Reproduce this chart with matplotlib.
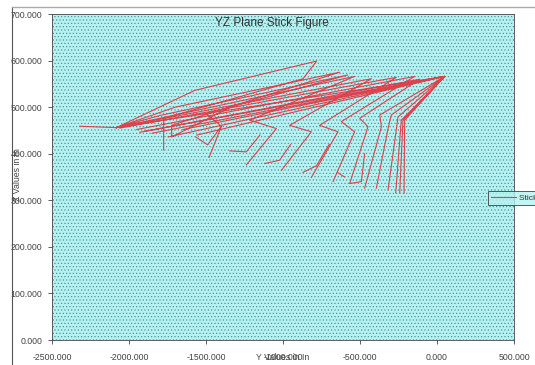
import numpy as np
import matplotlib
matplotlib.use("Agg")
import matplotlib.pyplot as plt
from matplotlib.patches import Rectangle

plt.rcParams['font.family'] = ['Liberation Sans', 'DejaVu Sans']
plt.rcParams['hatch.linewidth'] = 0.5

# Stick figure frames (Y value, Z value); None separates strokes
stick_y = [
    -2320, -2082, -1573, -781, -870, -1775, -1775, None,
    -2082, -1700, -632, -1723, -1723, -1310, None,
    -2082, -1800, -580, -1498, -1400, -1480, None, -1567, -1489, -1400, None,
    -2082, -535, -1216, -1043, -1238, None, -1346, -1238, -1150, None,
    -2082, -426, -957, -816, -1011, None, -1119, -1022, -950, None,
    -2060, -264, -762, -643, -816, None, -870, -783, -700, None,
    -1950, -145, -621, -535, -675, None, -643, -600, None,
    -1930, -113, -502, -448, -567, -491, -470, None,
    -2082, 50, -372, -361, -470, None,
    -1900, 50, -297, -318, -394, None,
    -1745, 50, -253, -318, None,
    -1850, 50, -232, -268, None,
    -1650, 50, -221, -242, None,
    -1560, 50, -210, -214,
]
stick_z = [
    459, 456, 536, 599, 561, 476, 408, None,
    456, 500, 575, 461, 436, 505, None,
    456, 482, 569, 486, 459, 392, None, 436, 419, 459, None,
    456, 566, 472, 454, 376, None, 406, 404, 440, None,
    456, 561, 461, 447, 364, None, 379, 386, 420, None,
    455, 564, 461, 447, 349, None, 360, 374, 420, None,
    452, 566, 469, 447, 340, None, 359, 350, None,
    446, 560, 476, 458, 336, 340, 400, None,
    456, 566, 483, 458, 326, None,
    448, 566, 483, 454, 326, None,
    436, 566, 479, 322, None,
    444, 566, 472, 316, None,
    452, 566, 472, 316, None,
    440, 566, 472, 315,
]
x_ticks = [-2500, -2000, -1500, -1000, -500, 0, 500]
y_ticks = [0, 100, 200, 300, 400, 500, 600, 700]

yv = np.array([np.nan if v is None else v for v in stick_y], dtype=float)
zv = np.array([np.nan if v is None else v for v in stick_z], dtype=float)

fig = plt.figure(figsize=(5.35, 3.65), dpi=100)
fig.patch.set_facecolor('white')
ax = fig.add_axes([52/535, 1 - 340/365, (514-52)/535, (340-14)/365])
ax.set_facecolor('#b6f2f2')
bg = Rectangle((0, 0), 1, 1, transform=ax.transAxes, facecolor='none',
               edgecolor='#4f9699', hatch='.....', linewidth=0, zorder=0.5)
ax.add_patch(bg)

ax.plot(yv, zv, color='#e5303c', lw=0.8, alpha=0.9, label='Stick Figure', zorder=2)

ax.set_xlim(-2500, 500)
ax.set_ylim(0, 700)
ax.set_xticks(x_ticks)
ax.set_yticks(y_ticks)
ax.set_xticklabels([f"{v:.3f}" for v in x_ticks])
ax.set_yticklabels([f"{v:.3f}" for v in y_ticks])
ax.tick_params(axis='both', labelsize=6.3, colors='#444444', length=3, width=0.6, direction='out')
ax.tick_params(axis='x', pad=6)
ax.tick_params(axis='y', pad=4)
for s in ax.spines.values():
    s.set_color('#444444')
    s.set_linewidth(0.6)

fig.text(272/535, 1 - 23/365, 'YZ Plane Stick Figure', ha='center', va='center',
         fontsize=8.5, color='#333333')
fig.text(283/535, 1 - 357/365, 'Y Values in In', ha='center', va='center',
         fontsize=6.3, color='#444444')
fig.text(18/535, 1 - 175/365, 'Z Values in In', ha='center', va='center',
         rotation=90, fontsize=6.3, color='#444444')

# outer chart border (left and top)
fig.add_artist(plt.Line2D([12/535, 12/535], [0, 1 - 7/365], transform=fig.transFigure,
                          color='#555555', lw=0.8))
fig.add_artist(plt.Line2D([12/535, 1], [1 - 7/365, 1 - 7/365], transform=fig.transFigure,
                          color='#aaaaaa', lw=1.0))

leg = fig.legend(loc='center left', bbox_to_anchor=(484/535, 1 - 198/365), fontsize=6,
                 frameon=True, fancybox=False, edgecolor='#333333', handlelength=3.0,
                 borderpad=0.35, labelcolor='#333333', handletextpad=0.4)
leg.get_frame().set_linewidth(0.7)
leg.get_frame().set_facecolor('#b6f2f2')

fig.savefig('out.png', dpi=100)
